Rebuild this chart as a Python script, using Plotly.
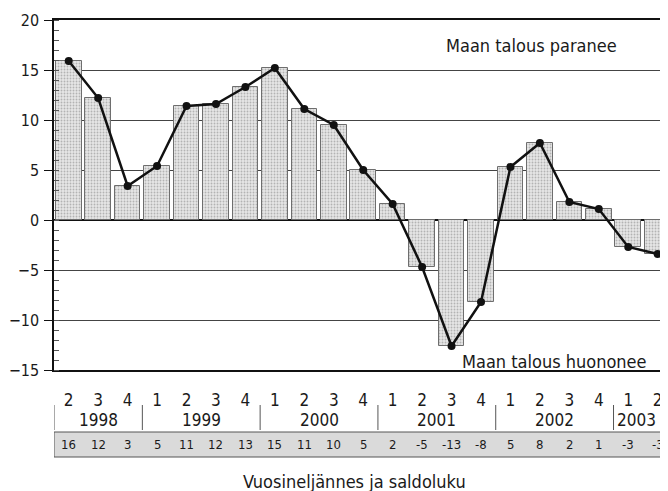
import plotly.graph_objects as go

# data
quarters = ["2", "3", "4", "1", "2", "3", "4", "1", "2", "3", "4",
            "1", "2", "3", "4", "1", "2", "3", "4", "1", "2"]
balance = [15.9, 12.2, 3.4, 5.4, 11.4, 11.6, 13.3, 15.2, 11.1, 9.5, 5.0,
           1.6, -4.7, -12.6, -8.2, 5.3, 7.7, 1.8, 1.1, -2.7, -3.4]
saldo_labels = ["16", "12", "3", "5", "11", "12", "13", "15", "11", "10", "5",
                "2", "-5", "-13", "-8", "5", "8", "2", "1", "-3", "-3"]
years = ["1998", "1999", "2000", "2001", "2002", "2003"]
year_counts = [3, 4, 4, 4, 4, 2]

FONT = "DejaVu Sans Condensed, Liberation Sans Narrow, sans-serif"
TXT = "#1a1a1a"
idx = list(range(len(quarters)))
X_MAX = 20.35

fig = go.Figure()

fig.add_trace(go.Bar(
    x=idx, y=balance, width=0.87,
    marker=dict(
        color="#e2e2e2",
        line=dict(color="#6e6e6e", width=1),
        pattern=dict(shape=".", size=3, solidity=0.3, fgcolor="#808080", bgcolor="#e6e6e6"),
    ),
    showlegend=False,
))

fig.add_trace(go.Scatter(
    x=idx, y=balance, mode="lines+markers",
    line=dict(color="#111", width=2.5),
    marker=dict(color="#111", size=8),
    showlegend=False,
))

# vuosiryhmät ja saldoluvut akselin alle
py = lambda px: -px / 350.0   # pikselit plotin alareunasta paperikoordinaatteihin
start = 0
for year, n in zip(years, year_counts):
    fig.add_shape(type="line", xref="x", yref="paper",
                  x0=start - 0.5, x1=start - 0.5, y0=py(35), y1=py(60),
                  line=dict(color="#555", width=1))
    # keskitetään näkyvälle osalle (viimeinen vuosi leikkautuu reunasta)
    left, right = start - 0.5, min(start + n - 0.5, X_MAX - 0.3)
    fig.add_annotation(x=(left + right) / 2, y=py(50), xref="x", yref="paper",
                       text=year, showarrow=False, yanchor="middle",
                       font=dict(size=17, color=TXT, family=FONT))
    start += n

fig.add_shape(type="rect", xref="x", yref="paper",
              x0=-0.5, x1=21, y0=py(62), y1=py(87),
              line=dict(color="#555", width=1),
              fillcolor="#dadada", layer="below")
for i, s in zip(idx, saldo_labels):
    fig.add_annotation(x=i, y=py(75), xref="x", yref="paper", text=s,
                       showarrow=False, yanchor="middle",
                       font=dict(size=13, color=TXT, family=FONT))

fig.add_annotation(x=0.49, y=py(111), xref="paper", yref="paper",
                   text="Vuosineljännes ja saldoluku", showarrow=False, yanchor="middle",
                   font=dict(size=18, color=TXT, family=FONT))
fig.add_annotation(x=15.7, y=17.5, text="Maan talous paranee", showarrow=False,
                   font=dict(size=18, color=TXT, family=FONT))
fig.add_annotation(x=16.5, y=-14.1, text="Maan talous huononee", showarrow=False,
                   font=dict(size=18, color=TXT, family=FONT))

fig.update_xaxes(
    range=[-0.5, X_MAX], tickvals=idx, ticktext=quarters,
    showgrid=False, zeroline=False, showline=True, mirror=True,
    linecolor="#111", linewidth=1.5, ticks="", ticklabelstandoff=14,
    tickfont=dict(size=17, color=TXT, family=FONT), automargin=False,
)
fig.update_yaxes(
    range=[-15, 20], tickvals=[-15, -10, -5, 0, 5, 10, 15, 20],
    showgrid=True, gridcolor="#444", gridwidth=1,
    zeroline=True, zerolinecolor="#111", zerolinewidth=1.5,
    showline=True, linecolor="#111", linewidth=1.5,
    ticks="outside", ticklen=8, tickcolor="#111", ticklabelstandoff=2,
    minor=dict(ticks="inside", dtick=1, ticklen=5, tickcolor="#555", showgrid=False),
    tickfont=dict(size=16, color=TXT, family=FONT), automargin=False,
)

# sivun body-marginaali (8 px) huomioitu koossa
fig.update_layout(
    width=660, height=483,
    margin=dict(l=46, r=0, t=12, b=121),
    plot_bgcolor="white", paper_bgcolor="white",
    bargap=0,
)

fig.write_html("out.html")
